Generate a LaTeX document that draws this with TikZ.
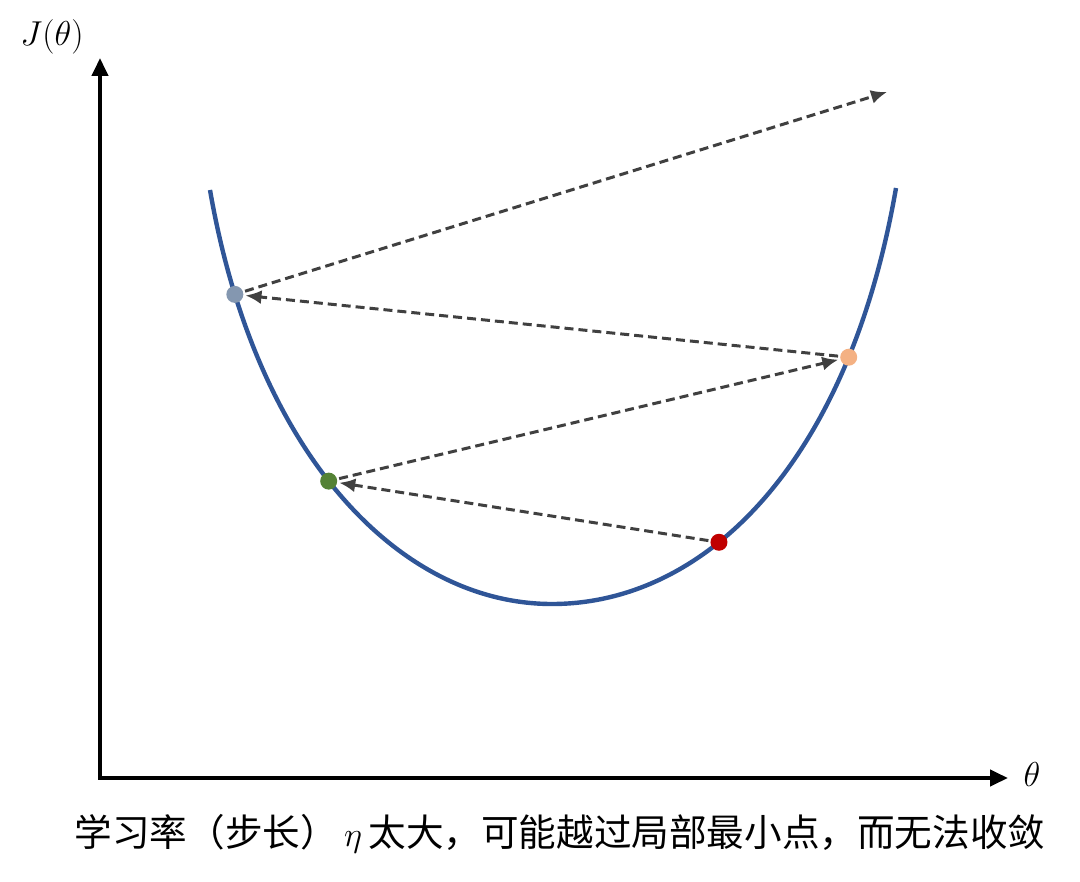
\documentclass[tikz,border=0pt]{standalone}
\usepackage{fontspec}
\newfontfamily\cjk{Noto Sans CJK SC}
\usetikzlibrary{arrows.meta}
\definecolor{ink}{HTML}{000000}
\definecolor{bowl}{HTML}{2F5597}
\definecolor{jump}{HTML}{404040}
\definecolor{ptgray}{HTML}{8497B0}
\definecolor{ptgreen}{HTML}{548235}
\definecolor{ptred}{HTML}{C00000}
\definecolor{ptorange}{HTML}{F4B183}

\begin{document}
\begin{tikzpicture}[x=0.5pt,y=-0.5pt,
  dot/.style={circle,inner sep=0pt,minimum size=8.5pt},
  jumparrow/.style={jump,line width=1.5pt,dash pattern=on 4.5pt off 2.5pt,
    -{Latex[length=8pt,width=7pt]}},
  axisline/.style={ink,line width=2pt,line join=miter,
    {Triangle[length=9pt,width=8pt]}-{Triangle[length=9pt,width=8pt]}}]

  \useasboundingbox (0,0) rectangle (1080,882);

  % ---------------------------------------------------------------- AXES
  \coordinate (ytip) at (100,58);
  \coordinate (origin) at (100,778);
  \coordinate (xtip) at (1008,778);
  \draw[axisline] (ytip) -- (origin) -- (xtip);
  \node (jlabel) at (52,37) {\LARGE$J(\theta)$};
  \node (thetalabel) at (1032,774) {\LARGE$\theta$};

  % ---------------------------------------------------------------- COST CURVE + ITERATES
  \draw[bowl,line width=2.2pt] (210,190) .. controls (256,455) and (400,604) .. (552,604)
    node[pos=0.14,dot,fill=ptgray] (p3) {}
    node[pos=0.465,dot,fill=ptgreen] (p1) {}
    .. controls (704,604) and (848,465) .. (896,188)
    node[pos=0.385,dot,fill=ptred] (p0) {}
    node[pos=0.77,dot,fill=ptorange] (p2) {};

  % ---------------------------------------------------------------- OVERSHOOTING STEPS
  \coordinate (escape) at (887,92);
  \draw[jumparrow] (p0) -- (p1);
  \draw[jumparrow] (p1) -- (p2);
  \draw[jumparrow] (p2) -- (p3);
  \draw[jumparrow] (p3) -- (escape);

  % ---------------------------------------------------------------- CAPTION
  \node (caption) at (560,834) {\cjk\fontsize{18.8}{23}\selectfont
    学习率（步长）\,$\eta$\,太大，可能越过局部最小点，而无法收敛};

\end{tikzpicture}
\end{document}
